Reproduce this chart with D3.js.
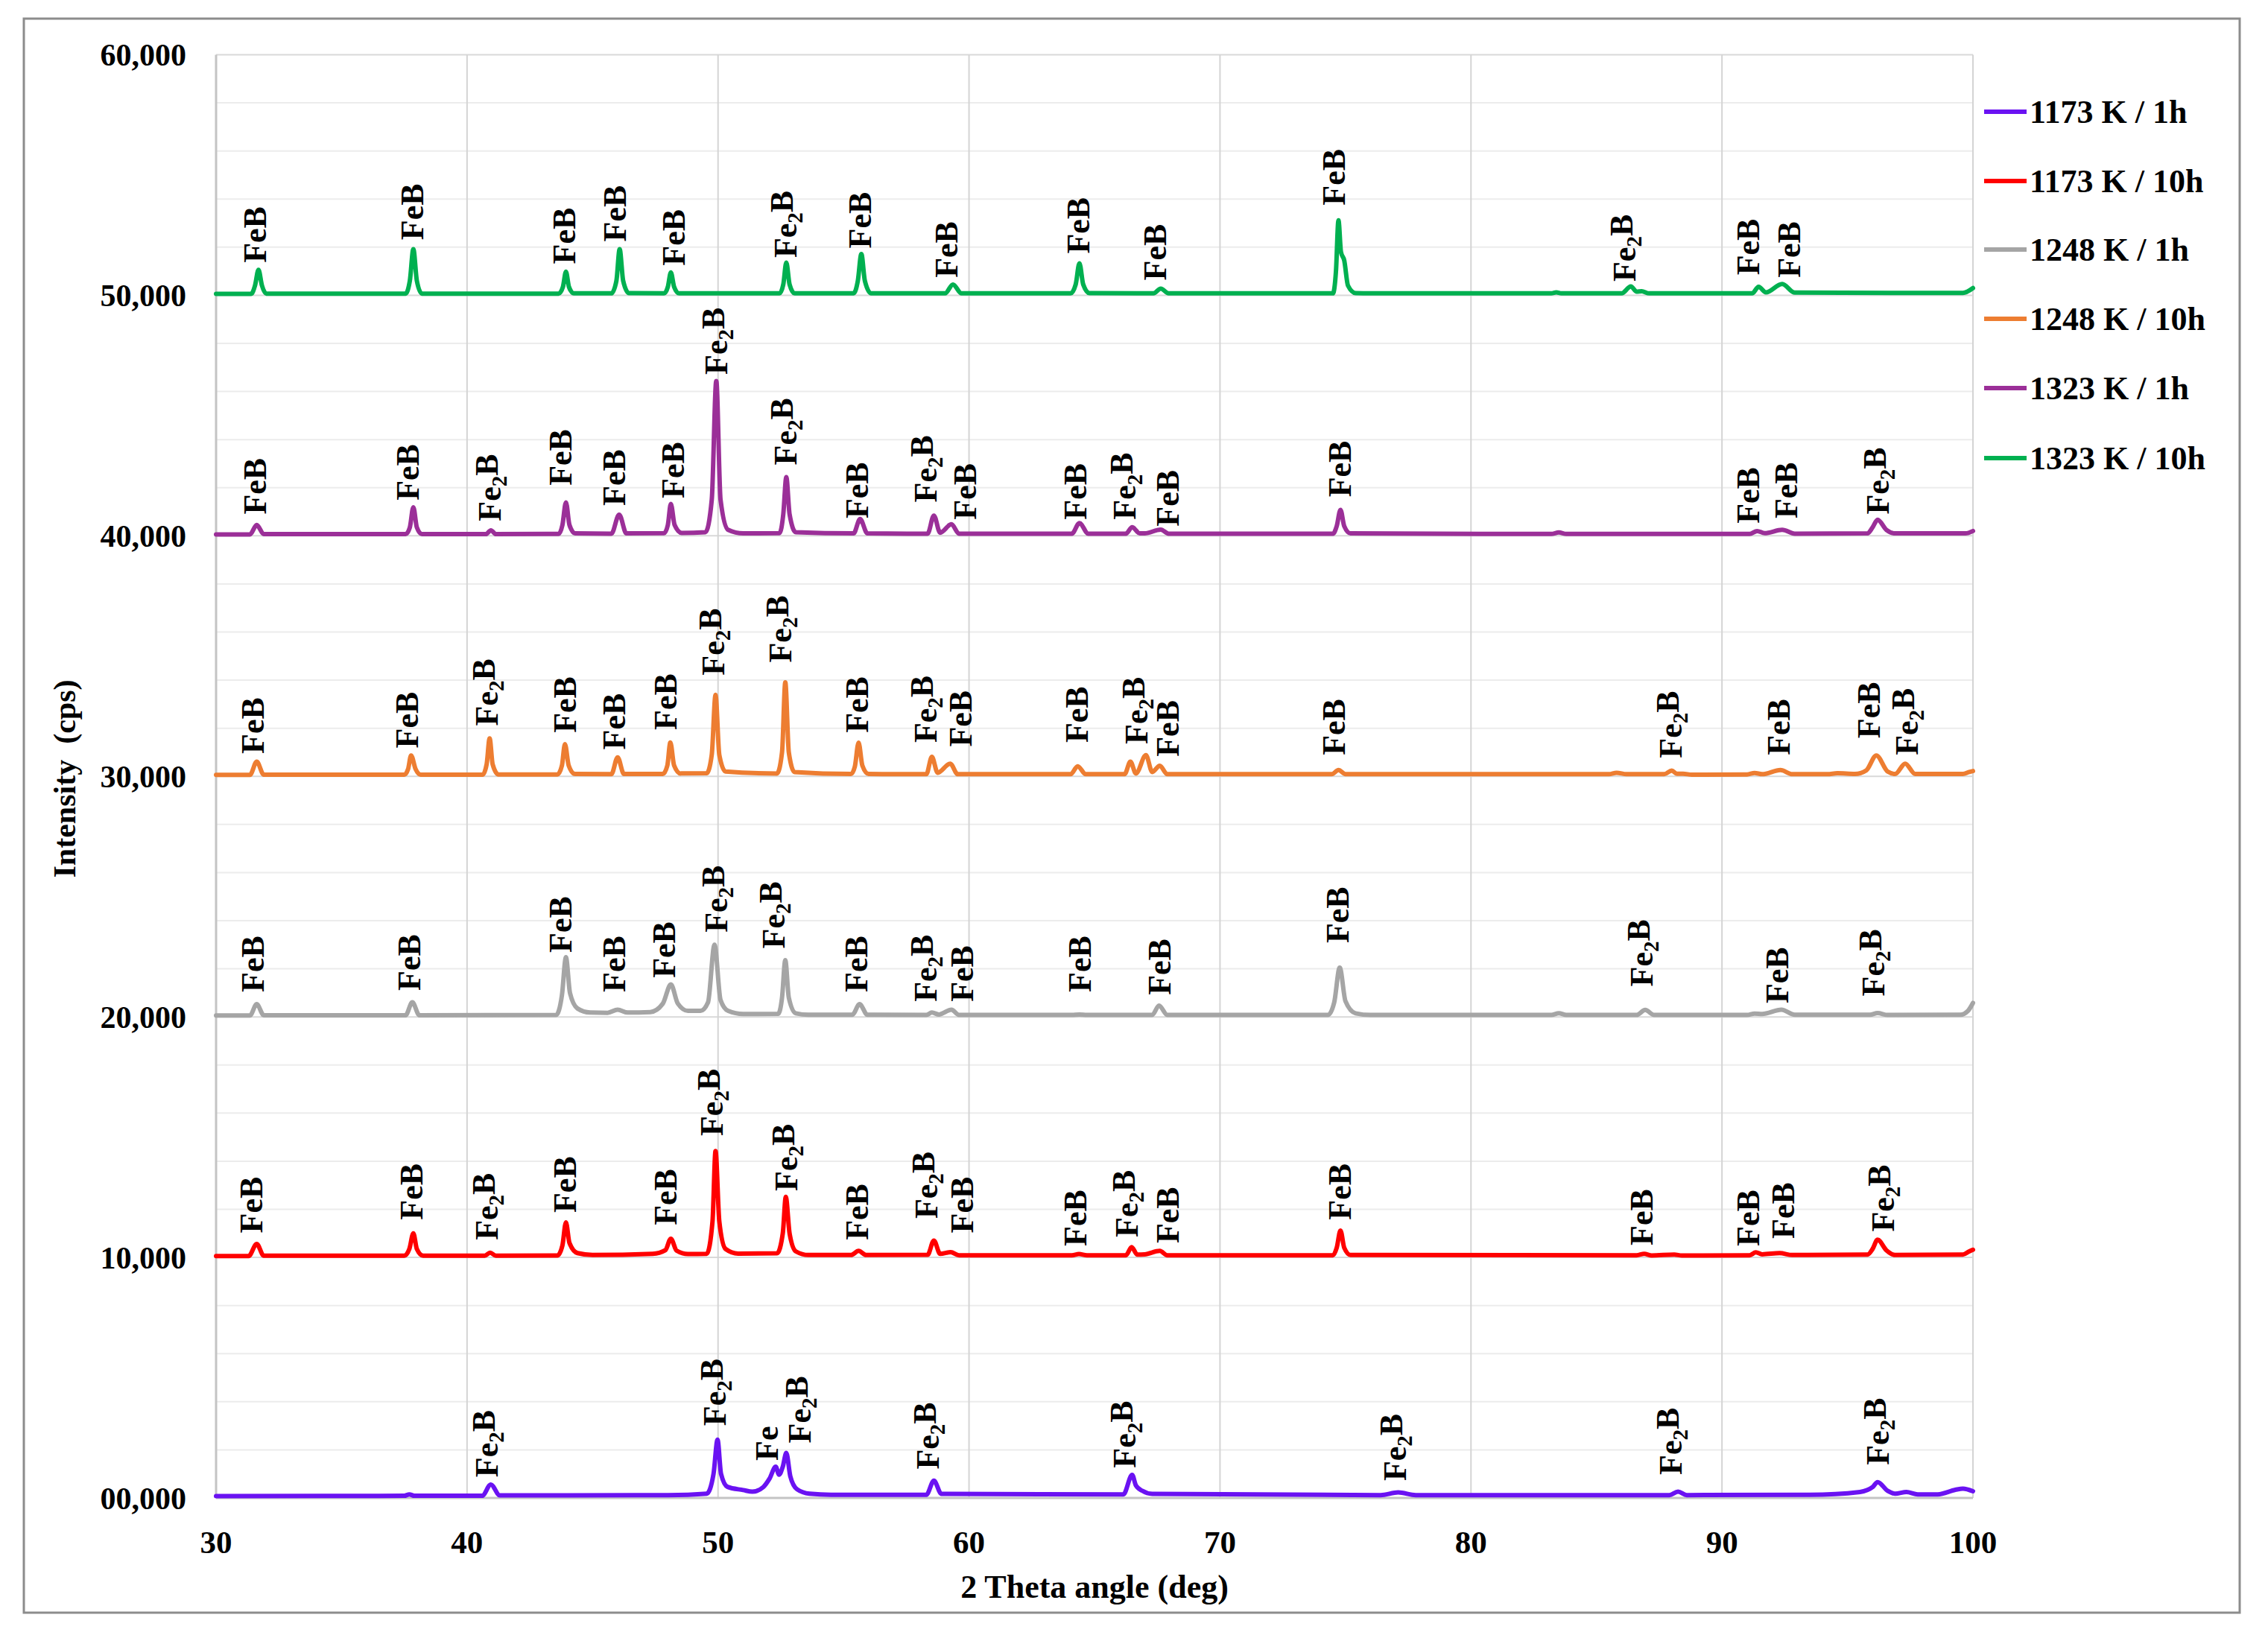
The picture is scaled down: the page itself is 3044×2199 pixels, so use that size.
<!DOCTYPE html>
<html>
<head>
<meta charset="utf-8">
<script src="https://cdn.jsdelivr.net/npm/d3@7"></script>
<style>
  html, body { margin: 0; padding: 0; background: #ffffff; }
  svg { display: block; }
  text { font-family: "Liberation Serif", "Times New Roman", serif; font-weight: bold; fill: #000; }
</style>
</head>
<body>
<svg id="chart" width="3044" height="2199"></svg>
<script>
// ---------------- DATA ----------------
const seriesNames = ["1173 K / 1h", "1173 K / 10h", "1248 K / 1h", "1248 K / 10h", "1323 K / 1h", "1323 K / 10h"];
const seriesColors = ["#6a12f2", "#ff0000", "#a5a5a5", "#ed7d31", "#9b2f98", "#00b050"];

const xTicks = [30, 40, 50, 60, 70, 80, 90, 100];
const yTicks = [0, 10000, 20000, 30000, 40000, 50000, 60000];
const yTickLabels = ["00,000", "10,000", "20,000", "30,000", "40,000", "50,000", "60,000"];

// 2-theta (deg), intensity (cps, stacked offsets as plotted)
const s1173_1h = [[30,80],[37.5,90],[37.7,150],[37.9,90],[40.6,90],[40.95,560],[41.3,110],[44,110],[48,120],[49.55,180],[49.82,1000],[49.98,2420],[50.12,1000],[50.38,460],[51,330],[51.37,260],[51.8,450],[52.05,800],[52.3,1300],[52.43,970],[52.58,1300],[52.72,1870],[52.88,900],[53.15,360],[53.65,175],[54.5,130],[58.3,130],[58.6,720],[58.9,170],[66.15,150],[66.5,960],[66.65,520],[66.9,300],[67.3,170],[76.4,120],[77.1,230],[77.8,120],[87.9,120],[88.25,260],[88.6,120],[93.5,130],[95.5,250],[96.0,450],[96.2,660],[96.6,300],[96.9,180],[97.35,250],[97.8,150],[98.6,150],[99.3,340],[99.6,390],[100,280]];

const s1173_10h = [[30,10060],[31.3,10060],[31.62,10560],[31.9,10070],[37.5,10070],[37.7,10350],[37.86,11000],[38.0,10350],[38.25,10070],[40.7,10070],[40.92,10200],[41.15,10070],[43.6,10080],[43.8,10500],[43.94,11460],[44.08,10600],[44.4,10180],[45,10100],[47.4,10150],[47.9,10300],[48.12,10780],[48.35,10280],[48.8,10140],[49.55,10150],[49.78,11500],[49.9,14420],[50.05,11500],[50.3,10350],[50.8,10160],[52.35,10170],[52.58,11000],[52.7,12520],[52.85,11000],[53.1,10250],[53.6,10100],[55.3,10100],[55.6,10270],[55.9,10100],[58.35,10110],[58.6,10700],[58.85,10150],[59.27,10220],[59.6,10090],[64.1,10090],[64.38,10140],[64.7,10090],[66.25,10090],[66.48,10430],[66.7,10120],[67.0,10130],[67.6,10270],[67.9,10090],[74.5,10090],[74.65,10400],[74.8,11120],[74.95,10400],[75.2,10100],[86.6,10090],[86.9,10150],[87.2,10080],[88.1,10120],[88.4,10080],[91.1,10090],[91.35,10210],[91.6,10130],[92.3,10180],[92.8,10100],[95.8,10120],[96.0,10350],[96.2,10740],[96.55,10300],[96.9,10100],[99.6,10120],[99.85,10250],[100,10320]];

const s1248_1h = [[30,20060],[31.35,20060],[31.62,20530],[31.9,20070],[37.55,20070],[37.82,20610],[38.1,20070],[43.55,20080],[43.78,20900],[43.94,22480],[44.1,21000],[44.4,20350],[44.9,20180],[45.6,20170],[46.0,20300],[46.4,20180],[47.3,20200],[47.8,20550],[48.12,21350],[48.4,20550],[48.8,20250],[49.3,20250],[49.6,20600],[49.86,23000],[50.1,20700],[50.4,20250],[51,20120],[52.4,20130],[52.55,20800],[52.68,22360],[52.82,20800],[53.1,20150],[53.6,20090],[55.35,20090],[55.64,20530],[55.95,20090],[58.3,20080],[58.52,20180],[58.8,20100],[59.3,20300],[59.6,20080],[64.1,20080],[64.4,20100],[64.7,20080],[67.3,20080],[67.57,20470],[67.9,20080],[74.3,20080],[74.55,20600],[74.77,22050],[75.0,20650],[75.4,20150],[76,20080],[83.2,20080],[83.5,20150],[83.8,20080],[86.6,20080],[86.94,20290],[87.3,20080],[91.0,20080],[91.3,20140],[91.6,20120],[92.37,20300],[92.9,20090],[95.9,20090],[96.2,20160],[96.6,20080],[99.5,20090],[99.8,20250],[100,20580]];

const s1248_10h = [[30,30060],[31.35,30060],[31.62,30610],[31.9,30070],[37.5,30070],[37.65,30300],[37.77,30870],[37.95,30300],[38.15,30070],[40.62,30070],[40.78,30500],[40.9,31580],[41.02,30500],[41.25,30080],[43.6,30080],[43.78,30450],[43.9,31340],[44.05,30450],[44.3,30100],[45.75,30090],[46.0,30790],[46.25,30100],[47.8,30100],[47.98,30450],[48.1,31410],[48.25,30450],[48.5,30120],[49.55,30130],[49.75,30900],[49.9,33390],[50.05,30900],[50.3,30200],[52.35,30120],[52.55,31000],[52.68,33910],[52.82,31000],[53.05,30180],[55.3,30100],[55.45,30400],[55.6,31400],[55.75,30450],[56.0,30100],[58.3,30090],[58.52,30810],[58.75,30150],[59.25,30530],[59.55,30090],[64.05,30090],[64.33,30420],[64.65,30090],[66.2,30090],[66.43,30610],[66.65,30120],[67.05,30880],[67.3,30180],[67.6,30440],[67.9,30090],[74.45,30090],[74.72,30260],[75.0,30090],[85.5,30090],[85.8,30150],[86.2,30090],[87.7,30090],[88.0,30240],[88.2,30110],[88.45,30110],[88.8,30070],[91.0,30080],[91.3,30140],[91.6,30090],[92.33,30260],[92.8,30090],[94.2,30090],[94.6,30130],[95.3,30100],[95.75,30250],[96.15,30870],[96.6,30200],[96.9,30100],[97.3,30530],[97.7,30100],[99.6,30100],[99.85,30180],[100,30220]];

const s1323_1h = [[30,40060],[31.35,40060],[31.62,40450],[31.9,40070],[37.55,40070],[37.72,40350],[37.86,41190],[38.0,40350],[38.2,40070],[40.75,40070],[40.95,40230],[41.15,40070],[43.65,40080],[43.8,40450],[43.94,41390],[44.08,40450],[44.3,40100],[45.75,40090],[46.06,40880],[46.35,40100],[47.85,40110],[48.0,40450],[48.12,41330],[48.27,40450],[48.55,40120],[49.5,40150],[49.75,41500],[49.93,46440],[50.1,41500],[50.4,40250],[51,40100],[52.45,40110],[52.6,40900],[52.72,42440],[52.85,40900],[53.1,40150],[55.4,40100],[55.66,40700],[55.95,40100],[58.35,40090],[58.6,40840],[58.85,40130],[59.3,40480],[59.6,40090],[64.1,40090],[64.4,40530],[64.75,40090],[66.25,40090],[66.5,40360],[66.8,40100],[67.0,40100],[67.64,40260],[67.95,40090],[74.5,40090],[74.65,40400],[74.8,41080],[74.95,40400],[75.2,40100],[83.2,40080],[83.5,40140],[83.8,40080],[91.1,40080],[91.4,40200],[91.7,40110],[92.4,40250],[92.9,40090],[95.8,40100],[96.0,40350],[96.2,40670],[96.55,40250],[96.9,40100],[99.7,40100],[100,40200]];

const s1323_10h = [[30,50060],[31.4,50060],[31.55,50400],[31.69,51060],[31.83,50400],[32.0,50070],[37.55,50070],[37.72,50600],[37.86,51920],[38.0,50600],[38.2,50070],[43.65,50070],[43.82,50350],[43.94,50980],[44.06,50350],[44.25,50080],[45.75,50080],[45.95,50600],[46.08,51920],[46.22,50600],[46.45,50090],[47.85,50080],[48.0,50350],[48.12,50950],[48.25,50350],[48.45,50080],[52.45,50080],[52.6,50450],[52.72,51360],[52.85,50450],[53.05,50080],[55.4,50080],[55.57,50600],[55.71,51720],[55.85,50600],[56.1,50080],[59.05,50080],[59.36,50450],[59.7,50080],[64.05,50080],[64.25,50450],[64.4,51330],[64.55,50450],[64.8,50090],[67.35,50080],[67.64,50280],[67.95,50080],[74.5,50080],[74.62,51000],[74.72,53120],[74.82,51800],[74.95,51450],[75.1,50400],[75.4,50090],[76,50080],[83.2,50080],[83.4,50120],[83.6,50080],[86.0,50080],[86.37,50370],[86.6,50150],[86.8,50170],[87.1,50080],[91.2,50080],[91.46,50350],[91.75,50120],[92.4,50470],[92.9,50110],[99.6,50100],[100,50300]];

const seriesData = [s1173_1h, s1173_10h, s1248_1h, s1248_10h, s1323_1h, s1323_10h];

// phase labels: [text, 2-theta, intensity at start of the (vertical) label]
const lab1173_1h = [["Fe2B",40.78,860],["Fe2B",49.86,3000],["Fe",51.95,1550],["Fe2B",53.24,2280],["Fe2B",58.35,1190],["Fe2B",66.2,1250],["Fe2B",76.95,710],["Fe2B",87.94,960],["Fe2B",96.2,1370]];
const lab1173_10h = [["FeB",31.4,11010],["FeB",37.77,11560],["Fe2B",40.78,10720],["FeB",43.9,11860],["FeB",47.9,11340],["Fe2B",49.74,15050],["Fe2B",52.72,12760],["FeB",55.53,10720],["Fe2B",58.3,11610],["FeB",59.72,11010],["FeB",64.24,10470],["Fe2B",66.27,10840],["FeB",67.91,10590],["FeB",74.77,11560],["FeB",86.8,10500],["FeB",91.05,10470],["FeB",92.42,10780],["Fe2B",96.4,11070]];
const lab1248_1h = [["FeB",31.46,21030],["FeB",37.7,21090],["FeB",43.71,22670],["FeB",45.85,21030],["FeB",47.83,21620],["Fe2B",49.93,23510],["Fe2B",52.2,22840],["FeB",55.49,21030],["Fe2B",58.25,20630],["FeB",59.72,20630],["FeB",64.4,21030],["FeB",67.57,20910],["FeB",74.67,23070],["Fe2B",86.8,21260],["FeB",92.2,20560],["Fe2B",96.02,20860]];
const lab1248_10h = [["FeB",31.46,30940],["FeB",37.59,31170],["Fe2B",40.78,32100],["FeB",43.9,31810],["FeB",45.85,31110],["FeB",47.9,31930],["Fe2B",49.8,34200],["Fe2B",52.48,34730],["FeB",55.53,31810],["Fe2B",58.25,31400],["FeB",59.65,31230],["FeB",64.28,31400],["Fe2B",66.66,31340],["FeB",67.91,30820],["FeB",74.54,30880],["Fe2B",87.94,30760],["FeB",92.25,30880],["FeB",95.84,31580],["Fe2B",97.35,30880]];
const lab1323_1h = [["FeB",31.55,40890],["FeB",37.63,41470],["Fe2B",40.9,40610],["FeB",43.71,42090],["FeB",45.85,41250],["FeB",48.21,41560],["Fe2B",49.93,46700],["Fe2B",52.67,42940],["FeB",55.53,40720],["Fe2B",58.25,41390],["FeB",59.83,40670],["FeB",64.24,40670],["Fe2B",66.2,40670],["FeB",67.91,40390],["FeB",74.77,41610],["FeB",91.05,40510],["FeB",92.54,40720],["Fe2B",96.2,40890]];
const lab1323_10h = [["FeB",31.55,51350],["FeB",37.8,52300],["FeB",43.85,51300],["FeB",45.89,52230],["FeB",48.24,51230],["Fe2B",52.67,51560],["FeB",55.66,51950],["FeB",59.08,50730],["FeB",64.36,51730],["FeB",67.4,50620],["FeB",74.54,53740],["Fe2B",86.1,50570],["FeB",91.05,50840],["FeB",92.66,50730]];
const phaseLabels = [lab1173_1h, lab1173_10h, lab1248_1h, lab1248_10h, lab1323_1h, lab1323_10h];

const xTitle = "2 Theta angle (deg)";
const yTitle = "Intensity  (cps)";

// ---------------- DRAW ----------------
const svg = d3.select("#chart");
svg.append("rect").attr("x", 0).attr("y", 0).attr("width", 3044).attr("height", 2199).attr("fill", "#fff");
svg.append("rect").attr("x", 32).attr("y", 25).attr("width", 2974).attr("height", 2140)
  .attr("fill", "none").attr("stroke", "#8c8c8c").attr("stroke-width", 3);

const x = d3.scaleLinear().domain([30, 100]).range([290, 2648]);
const y = d3.scaleLinear().domain([0, 60000]).range([2011, 73.5]);

const grid = svg.append("g");
// minor horizontal gridlines every 2000
grid.selectAll("line.h").data(d3.range(0, 60001, 2000)).join("line")
  .attr("x1", x(30)).attr("x2", x(100))
  .attr("y1", d => y(d)).attr("y2", d => y(d))
  .attr("stroke", d => d % 10000 === 0 ? "#d9d9d9" : "#ececec").attr("stroke-width", 2);
// vertical gridlines
grid.selectAll("line.v").data(xTicks.slice(1)).join("line")
  .attr("x1", d => x(d)).attr("x2", d => x(d))
  .attr("y1", y(60000)).attr("y2", y(0))
  .attr("stroke", "#d4d4d4").attr("stroke-width", 2);
// axis lines
svg.append("line").attr("x1", x(30)).attr("x2", x(30)).attr("y1", y(60000)).attr("y2", y(0))
  .attr("stroke", "#c4c4c4").attr("stroke-width", 3);
svg.append("line").attr("x1", x(30)).attr("x2", x(100)).attr("y1", y(0)).attr("y2", y(0))
  .attr("stroke", "#c4c4c4").attr("stroke-width", 3);

// y tick labels
svg.append("g").selectAll("text").data(yTicks).join("text")
  .attr("x", 250).attr("y", d => y(d)).attr("dy", "0.35em")
  .attr("text-anchor", "end").attr("font-size", 42)
  .text((d, i) => yTickLabels[i]);

// x tick labels
svg.append("g").selectAll("text").data(xTicks).join("text")
  .attr("x", d => x(d)).attr("y", 2070).attr("dy", "0.35em")
  .attr("text-anchor", "middle").attr("font-size", 43)
  .text(d => d);

// axis titles
svg.append("text").attr("x", x(65)).attr("y", 2130).attr("dy", "0.35em")
  .attr("text-anchor", "middle").attr("font-size", 44).text(xTitle);
svg.append("text").attr("transform", "translate(86," + y(29900) + ") rotate(-90)")
  .attr("dy", "0.35em").attr("text-anchor", "middle").attr("font-size", 42)
  .attr("xml:space", "preserve").style("white-space", "pre").text(yTitle);

// series lines
const line = d3.line().x(d => x(d[0])).y(d => y(d[1])).curve(d3.curveMonotoneX);
svg.append("g").selectAll("path").data(seriesData).join("path")
  .attr("d", line).attr("fill", "none")
  .attr("stroke", (d, i) => seriesColors[i]).attr("stroke-width", 6)
  .attr("stroke-linejoin", "round").attr("stroke-linecap", "round");

// phase labels
const labG = svg.append("g");
phaseLabels.forEach(list => {
  list.forEach(([t, tx, ty]) => {
    const txt = labG.append("text")
      .attr("transform", "translate(" + x(tx) + "," + y(ty) + ") rotate(-90)")
      .attr("dy", "0.34em").attr("font-size", 44);
    if (t === "Fe2B") {
      txt.append("tspan").text("Fe");
      txt.append("tspan").attr("font-size", 29).attr("dy", "0.28em").text("2");
      txt.append("tspan").attr("dy", "-0.28em").text("B");
    } else {
      txt.text(t);
    }
  });
});

// legend
const legY = [150, 243, 335, 428, 521, 615];
const leg = svg.append("g").selectAll("g").data(seriesNames).join("g")
  .attr("transform", (d, i) => "translate(0," + legY[i] + ")");
leg.append("line").attr("x1", 2663).attr("x2", 2720).attr("y1", 0).attr("y2", 0)
  .attr("stroke", (d, i) => seriesColors[i]).attr("stroke-width", 6);
leg.append("text").attr("x", 2724).attr("y", 0).attr("dy", "0.35em")
  .attr("font-size", 44).text(d => d);
</script>
</body>
</html>
